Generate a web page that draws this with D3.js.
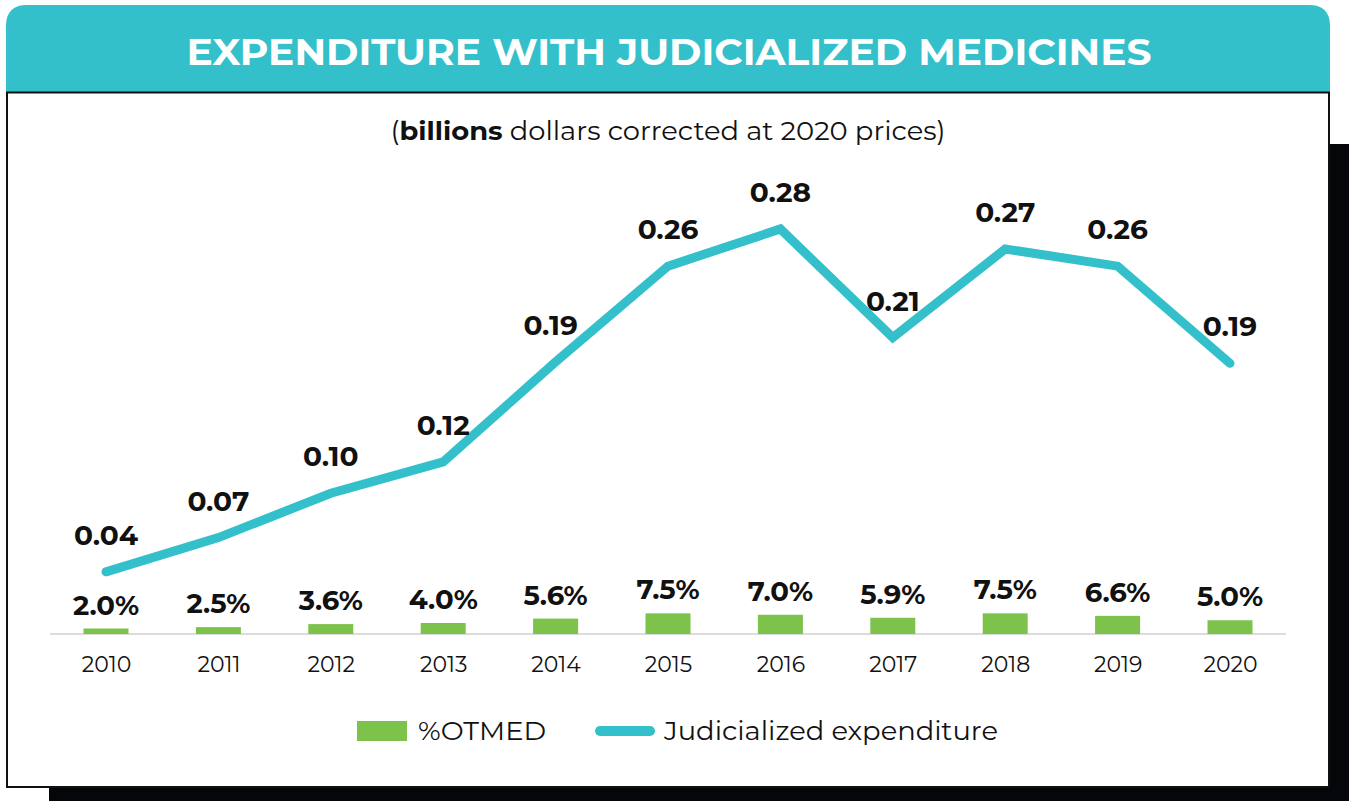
<html>
<head>
    <meta charset="utf-8">
    <script src="https://d3js.org/d3.v7.min.js"></script>
    <title>Judicialized medicines</title>
    <style>
        body { margin: 0; background: white; }
        text { font-family: Montserrat, Inter, "Noto Sans", sans-serif; }
    </style>
</head>
<body>
<svg id="chart" width="1349" height="801"></svg>
<script>
    // data
    const years = ["2010", "2011", "2012", "2013", "2014", "2015", "2016", "2017", "2018", "2019", "2020"];
    const expenditure = [0.04, 0.064, 0.095, 0.117, 0.187, 0.254, 0.28, 0.204, 0.266, 0.254, 0.186];
    const expLabels = ["0.04", "0.07", "0.10", "0.12", "0.19", "0.26", "0.28", "0.21", "0.27", "0.26", "0.19"];
    const otmed = [2.0, 2.5, 3.6, 4.0, 5.6, 7.5, 7.0, 5.9, 7.5, 6.6, 5.0];

    const teal = "#34C0CB";
    const green = "#7DC24B";

    const svg = d3.select("#chart");

    // card shadow, card, header
    svg.append("rect").attr("x", 49).attr("y", 144).attr("width", 1300).attr("height", 657).attr("fill", "#05060a");
    svg.append("rect").attr("x", 7).attr("y", 92).attr("width", 1322).attr("height", 695)
        .attr("fill", "white").attr("stroke", "#111").attr("stroke-width", 2);
    svg.append("path")
        .attr("d", "M6,92 L6,26 Q6,5 27,5 L1309,5 Q1330,5 1330,26 L1330,92 Z")
        .attr("fill", teal);
    svg.append("line").attr("x1", 6).attr("x2", 1330).attr("y1", 92.5).attr("y2", 92.5)
        .attr("stroke", "#111").attr("stroke-width", 2);

    svg.append("text").attr("x", 669).attr("y", 65).attr("text-anchor", "middle")
        .attr("fill", "white").attr("font-size", 37).attr("font-weight", 700)
        .attr("textLength", 965).attr("lengthAdjust", "spacingAndGlyphs")
        .text("EXPENDITURE WITH JUDICIALIZED MEDICINES");

    const sub = svg.append("text").attr("x", 668).attr("y", 140).attr("text-anchor", "middle")
        .attr("font-size", 26).attr("fill", "#111")
        .attr("textLength", 555).attr("lengthAdjust", "spacingAndGlyphs");
    sub.append("tspan").text("(");
    sub.append("tspan").attr("font-weight", 700).text("billions");
    sub.append("tspan").text(" dollars corrected at 2020 prices)");

    // scales
    const x = d3.scalePoint().domain(years).range([106, 1230]);
    const baseY = 634;
    const yBar = d3.scaleLinear().domain([0, 10]).range([baseY, baseY - 27.5]);
    const yLine = d3.scaleLinear().domain([0, 0.28]).range([629, 229]);

    // baseline + year axis
    svg.append("line").attr("x1", 50).attr("x2", 1286).attr("y1", baseY).attr("y2", baseY)
        .attr("stroke", "#d0d0d0").attr("stroke-width", 1.5);

    const axis = svg.append("g").attr("transform", `translate(0,${baseY})`)
        .call(d3.axisBottom(x).tickSize(0).tickPadding(22));
    axis.select(".domain").remove();
    axis.selectAll("text").attr("font-size", 22).attr("fill", "#111")
        .style("font-family", "Montserrat, Inter, sans-serif");

    // bars
    const barW = 45;
    svg.selectAll("rect.bar").data(otmed).join("rect")
        .attr("class", "bar")
        .attr("x", (d, i) => x(years[i]) - barW / 2)
        .attr("y", d => yBar(d))
        .attr("width", barW)
        .attr("height", d => baseY - yBar(d))
        .attr("fill", green);

    svg.selectAll("text.barlab").data(otmed).join("text")
        .attr("class", "barlab")
        .attr("x", (d, i) => x(years[i]))
        .attr("y", d => yBar(d) - 14)
        .attr("text-anchor", "middle")
        .attr("font-size", 27.5).attr("font-weight", 700).attr("fill", "#111")
        .text(d => d.toFixed(1) + "%");

    // line
    const line = d3.line().x((d, i) => x(years[i])).y(d => yLine(d));
    svg.append("path").datum(expenditure)
        .attr("d", line)
        .attr("fill", "none").attr("stroke", teal).attr("stroke-width", 9)
        .attr("stroke-linecap", "round").attr("stroke-linejoin", "miter");

    svg.selectAll("text.linelab").data(expenditure).join("text")
        .attr("class", "linelab")
        .attr("x", (d, i) => x(years[i]) - (i == 4 ? 5 : 0))
        .attr("y", d => yLine(d) - 27)
        .attr("text-anchor", "middle")
        .attr("font-size", 28).attr("font-weight", 700).attr("fill", "#111")
        .text((d, i) => expLabels[i]);

    // legend
    const leg = svg.append("g");
    leg.append("rect").attr("x", 357).attr("y", 721).attr("width", 50).attr("height", 20).attr("fill", green);
    leg.append("text").attr("x", 418).attr("y", 740).attr("font-size", 26).attr("fill", "#111")
        .attr("textLength", 128).attr("lengthAdjust", "spacingAndGlyphs").text("%OTMED");
    leg.append("line").attr("x1", 600).attr("x2", 650).attr("y1", 731).attr("y2", 731)
        .attr("stroke", teal).attr("stroke-width", 10).attr("stroke-linecap", "round");
    leg.append("text").attr("x", 664).attr("y", 740).attr("font-size", 26).attr("fill", "#111")
        .attr("textLength", 334).attr("lengthAdjust", "spacingAndGlyphs")
        .text("Judicialized expenditure");
</script>
</body>
</html>
